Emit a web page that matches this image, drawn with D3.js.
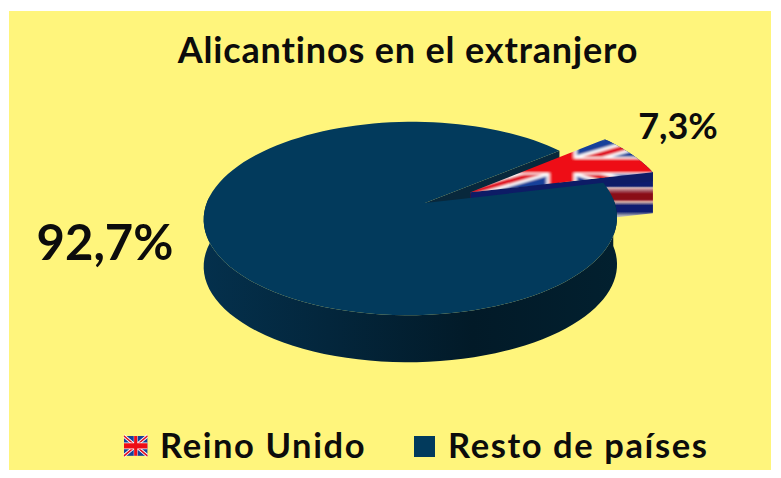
<!DOCTYPE html>
<html>
<head>
<meta charset="utf-8">
<script src="https://cdn.jsdelivr.net/npm/d3@7"></script>
<style>
  html, body { margin: 0; padding: 0; background: #fff; }
  text { font-family: Lato, "Open Sans", sans-serif; font-weight: 700; fill: #0c0c0c; }
</style>
</head>
<body>
<svg id="chart" width="781" height="478"></svg>
<script>
const categories = ['Reino Unido', 'Resto de países'];
const values = [7.3, 92.7];
const valueLabels = ['7,3%', '92,7%'];
const chartTitle = 'Alicantinos en el extranjero';

const navy = '#023a5c';
const svg = d3.select('#chart');
const defs = svg.append('defs');

defs.append('filter').attr('id', 'soft').append('feGaussianBlur').attr('stdDeviation', 0.6);

// background panel
svg.append('rect').attr('x', 9).attr('y', 11).attr('width', 762).attr('height', 459).attr('fill', '#fff57c');

// pie seen in perspective: plan coords (unit circle) -> screen
const depth = 47, flagDepth = 41;
const project = (X, Y) => {
  const w = 1 - 0.16 * Y + 0.07 * X;
  return [425 + 203 * X / w, 203 + 94 * Y / w];
};

// angles come from d3.pie, clockwise from north
const pie = d3.pie().sort(null).value(d => d)
  .startAngle(50 * Math.PI / 180)
  .endAngle((50 + 360) * Math.PI / 180);
const arcs = pie(values);

const polar = (a, r, off) => [off[0] + r * Math.sin(a), off[1] - r * Math.cos(a)];
const rimPoints = (a0, a1, r, off) => d3.range(0, 121).map(i => polar(a0 + (a1 - a0) * i / 120, r, off));
const line = d3.line();
const toScreen = (pts, dy) => pts.map(p => {
  const s = project(p[0], p[1]);
  return [s[0], s[1] + (dy || 0)];
});
const wallPath = (pts, d) => line(toScreen(pts, 0).concat(toScreen(pts, d).reverse())) + 'Z';

const flagArc = arcs[0], restArc = arcs[1];
const mid = (flagArc.startAngle + flagArc.endAngle) / 2;
const explode = 0.26;
const flagOff = [explode * Math.sin(mid), -explode * Math.cos(mid)];
const noOff = [0, 0];
const flagR = 1.09;

const flagRim = rimPoints(flagArc.startAngle, flagArc.endAngle, flagR, flagOff);
const flagTop = [flagOff].concat(flagRim);
const restRim = rimPoints(restArc.startAngle, restArc.endAngle, 1, noOff);
const restTop = [noOff].concat(restRim);
const flagCut = [flagOff, polar(flagArc.endAngle, flagR, flagOff)];

// union jack in a 60x30 box, shared by the slice and the legend key
function drawFlag(g) {
  g.append('rect').attr('width', 60).attr('height', 30).attr('fill', '#12409a');
  g.append('path').attr('d', 'M0,0L60,30M60,0L0,30').attr('stroke', '#fff').attr('stroke-width', 6);
  g.append('path').attr('d', 'M0,0L60,30M60,0L0,30').attr('stroke', '#e01020').attr('stroke-width', 2.8);
  g.append('path').attr('d', 'M30,0V30M0,15H60').attr('stroke', '#fff').attr('stroke-width', 10);
  g.append('path').attr('d', 'M30,0V30M0,15H60').attr('stroke', '#ee0a14').attr('stroke-width', 8);
}

// wall gradients
const wallGrad = defs.append('linearGradient').attr('id', 'wall')
  .attr('gradientUnits', 'userSpaceOnUse').attr('x1', 205).attr('x2', 617).attr('y1', 0).attr('y2', 0);
wallGrad.append('stop').attr('offset', 0).attr('stop-color', '#04304c');
wallGrad.append('stop').attr('offset', 0.3).attr('stop-color', '#03263c');
wallGrad.append('stop').attr('offset', 0.65).attr('stop-color', '#021a28');
wallGrad.append('stop').attr('offset', 1).attr('stop-color', '#02202f');

// flag stripes on the wall of the slice, in page pixels
const stripes = defs.append('linearGradient').attr('id', 'flagWall')
  .attr('gradientUnits', 'userSpaceOnUse').attr('x1', 0).attr('x2', 0).attr('y1', 172).attr('y2', 216);
[[0, '#0a1f6e'], [0.32, '#0a1f6e'], [0.36, '#d8b8b8'], [0.44, '#a04a55'], [0.5, '#8a0a18'], [0.62, '#8a0a18'], [0.68, '#d8b0a8'], [0.76, '#101f70'], [0.9, '#101f70'], [1, '#b8b8b8']]
  .forEach(s => stripes.append('stop').attr('offset', s[0]).attr('stop-color', s[1]));

// upper cut wall of the big slice, seen through the gap
svg.append('path').attr('fill', '#08283c')
  .attr('d', wallPath([noOff, polar(restArc.endAngle, 1, noOff)], depth));

// exploded slice: walls then top
const flagWalls = svg.append('g').attr('filter', 'url(#soft)');
flagWalls.append('path').attr('fill', 'url(#flagWall)').attr('d', wallPath(flagRim, flagDepth));
flagWalls.append('path').attr('fill', 'url(#flagWall)').attr('d', wallPath(flagCut, flagDepth));
flagWalls.append('path').attr('fill', '#0b1c66').attr('d', wallPath(flagCut, 9));

const topScreen = toScreen(flagTop);
defs.append('clipPath').attr('id', 'sliceClip').append('path').attr('d', line(topScreen) + 'Z');
const xExt = d3.extent(topScreen, d => d[0]), yExt = d3.extent(topScreen, d => d[1]);
const flagG = svg.append('g').attr('clip-path', 'url(#sliceClip)')
  .append('g').attr('filter', 'url(#soft)')
  .attr('transform', `translate(${xExt[0]},${yExt[0]}) scale(${(xExt[1] - xExt[0]) / 60},${(yExt[1] - yExt[0]) / 30})`);
drawFlag(flagG);

// big slice: outer wall then top
const frontRim = restRim.filter(p => project(p[0], p[1])[1] > 195);
svg.append('path').attr('fill', 'url(#wall)').attr('d', wallPath(frontRim, depth));
svg.append('path').attr('fill', navy).attr('d', line(toScreen(restTop)) + 'Z');

// title and value labels
svg.append('text').attr('x', 408).attr('y', 63).attr('text-anchor', 'middle').attr('font-size', 36).attr('letter-spacing', 0.85).text(chartTitle);
svg.append('text').attr('x', 678).attr('y', 139).attr('text-anchor', 'middle').attr('font-size', 36).text(valueLabels[0]);
svg.append('text').attr('x', 105).attr('y', 260).attr('text-anchor', 'middle').attr('font-size', 49).text(valueLabels[1]);

// legend
const legendX = [124, 414], legendTextX = [160, 448];
const legend = svg.selectAll('g.key').data(categories).join('g').attr('class', 'key');
legend.append('text').attr('x', (d, i) => legendTextX[i]).attr('y', 458).attr('font-size', 34.5).attr('letter-spacing', 1.6).text(d => d);
drawFlag(svg.append('g').attr('filter', 'url(#soft)').attr('transform', `translate(${legendX[0]},436) scale(0.39,0.66)`));
svg.append('rect').attr('x', legendX[1]).attr('y', 436).attr('width', 21).attr('height', 21).attr('fill', navy);
</script>
</body>
</html>
